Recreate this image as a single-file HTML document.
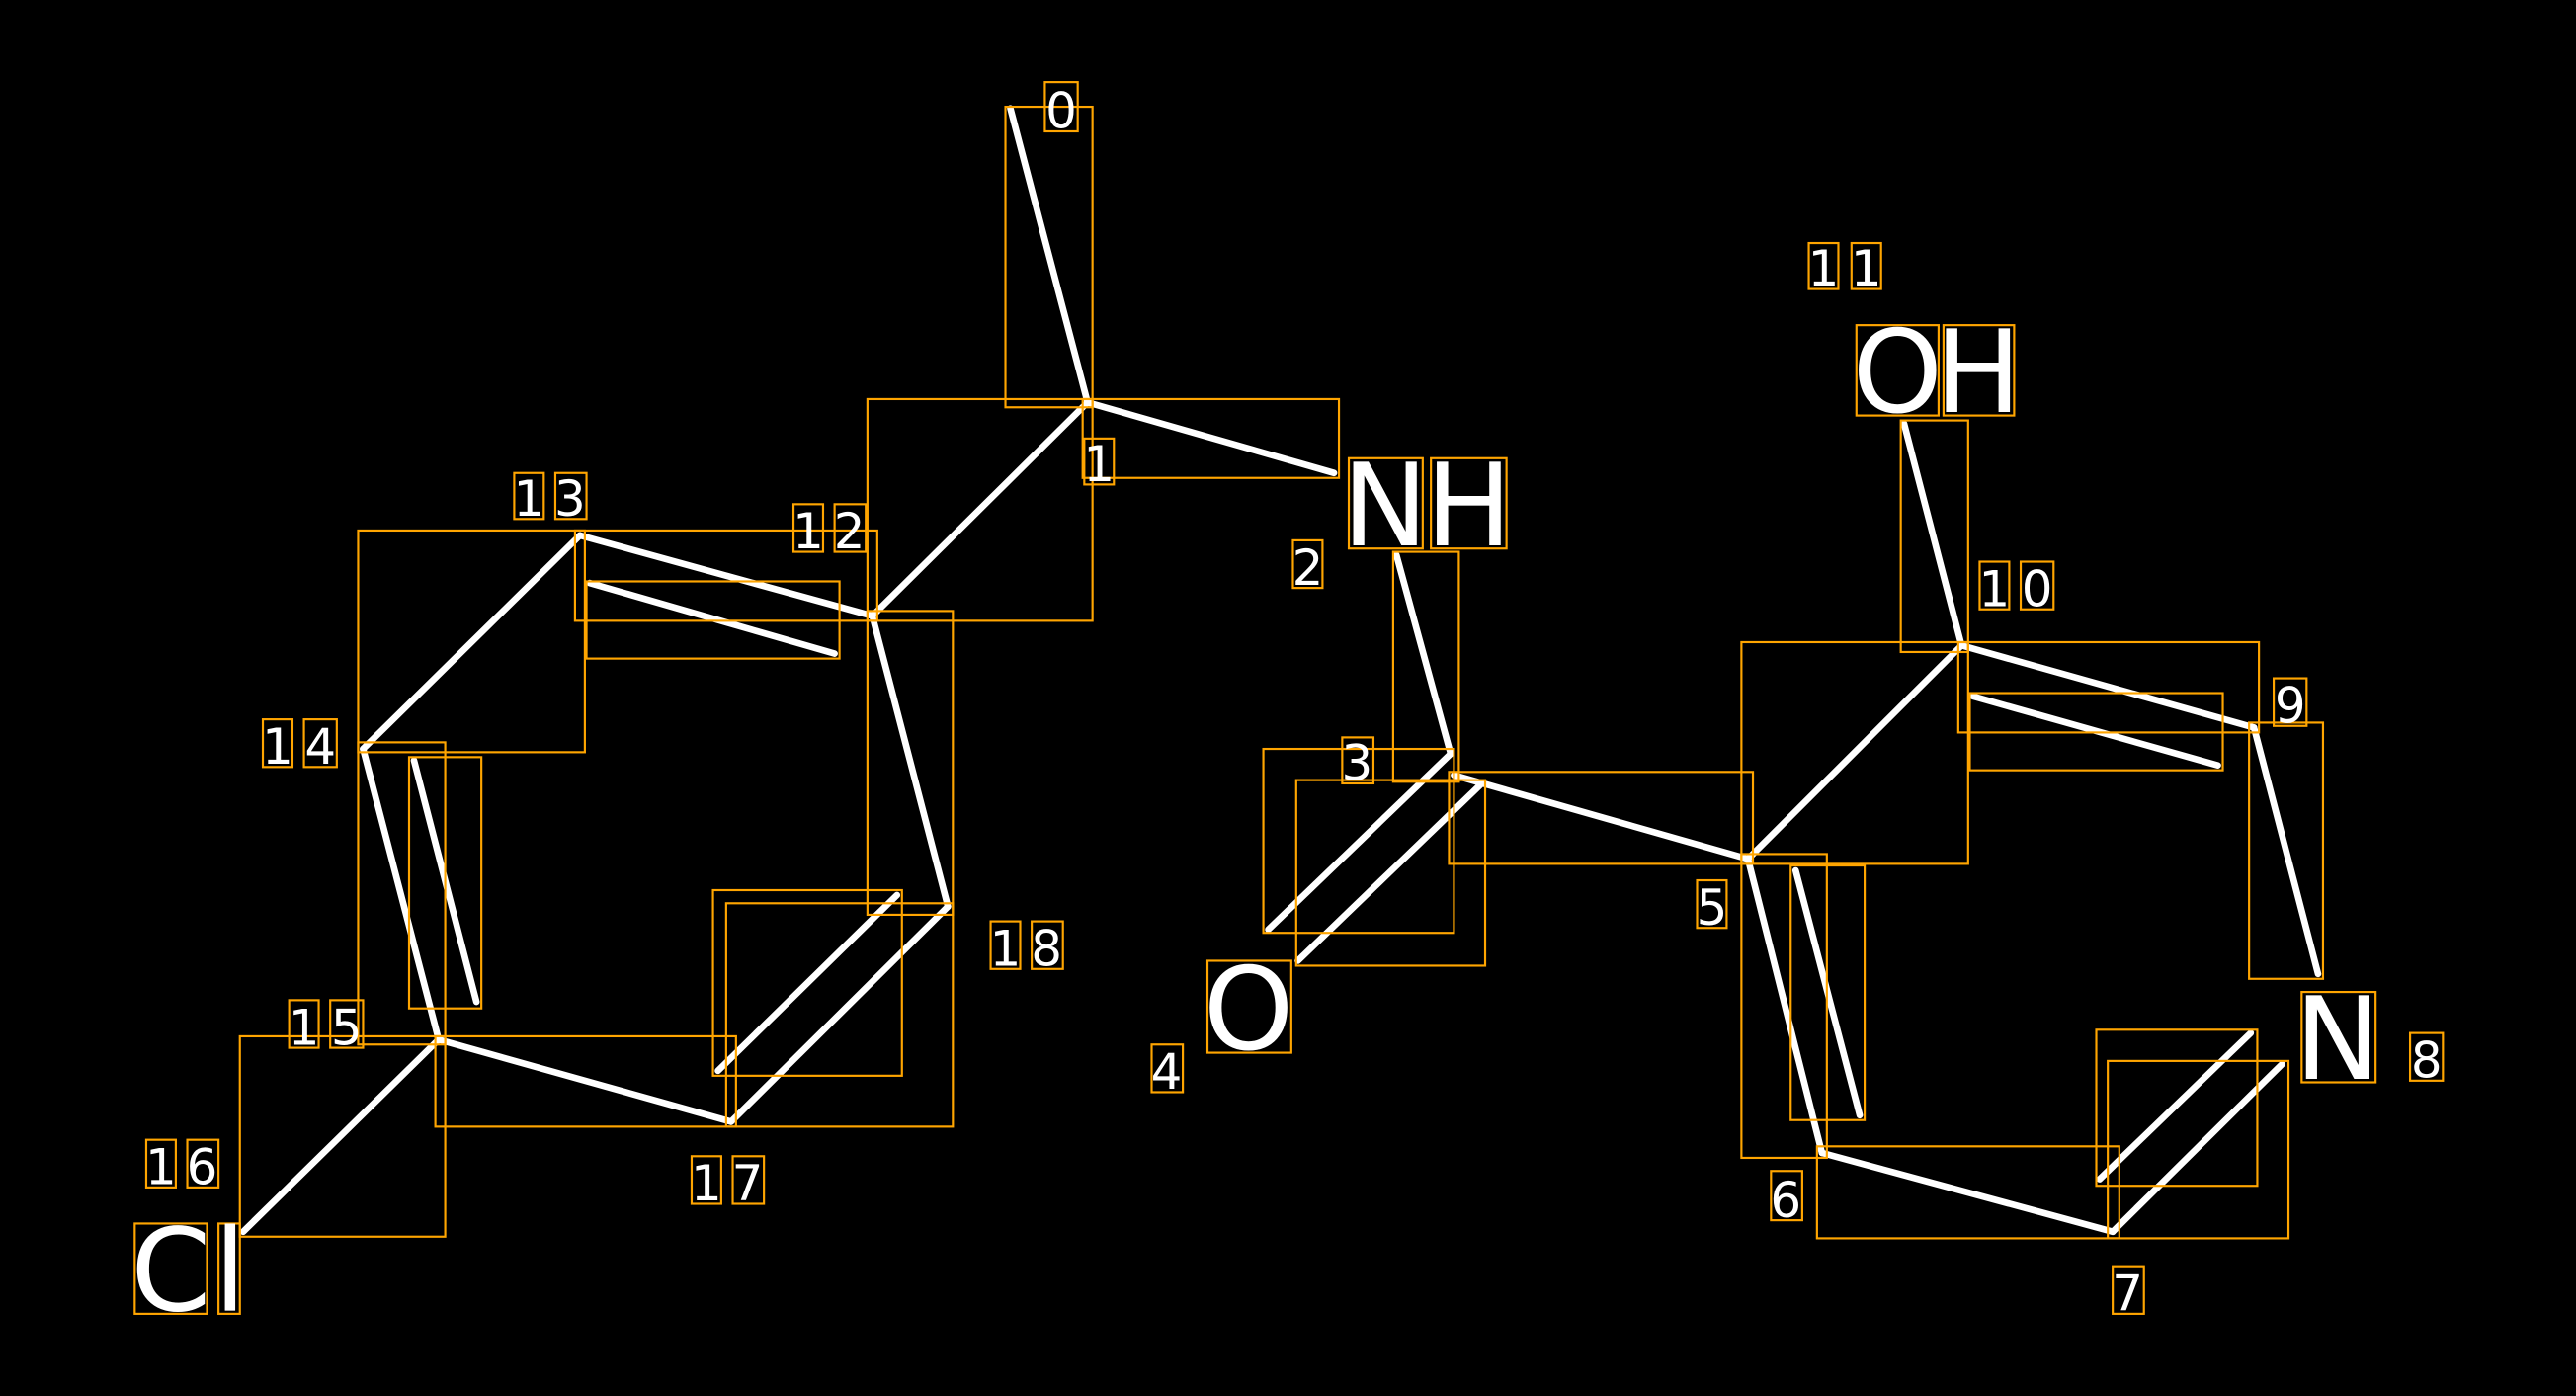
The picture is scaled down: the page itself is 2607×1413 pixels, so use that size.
<!DOCTYPE html>
<html><head><meta charset="utf-8"><style>
html,body{margin:0;padding:0;background:#000;}
svg{display:block;}
text{font-family:"DejaVu Sans","Liberation Sans",sans-serif;fill:#fff;text-anchor:middle;}
.s{font-size:30px;}
.b{font-size:70px;}
</style></head><body>
<svg width="2607" height="1413" viewBox="0 0 1568 850" preserveAspectRatio="none" xmlns="http://www.w3.org/2000/svg">
<rect x="0" y="0" width="1568" height="850" fill="#000"/>
<g stroke="#fff" stroke-width="4" stroke-linecap="round">
<line x1="615" y1="66" x2="662" y2="245"/>
<line x1="662" y1="245" x2="812" y2="288"/>
<line x1="662" y1="245" x2="531" y2="375"/>
<line x1="531" y1="375" x2="353" y2="326"/>
<line x1="359" y1="355" x2="508" y2="398"/>
<line x1="353" y1="326" x2="221" y2="456"/>
<line x1="221" y1="456" x2="267" y2="633"/>
<line x1="252" y1="463" x2="290" y2="610"/>
<line x1="267" y1="633" x2="148" y2="750"/>
<line x1="267" y1="633" x2="445" y2="683"/>
<line x1="445" y1="683" x2="577" y2="552"/>
<line x1="437" y1="652" x2="546" y2="545"/>
<line x1="577" y1="552" x2="531" y2="375"/>
<line x1="850" y1="338" x2="883" y2="459"/>
<line x1="883" y1="459" x2="772" y2="566"/>
<line x1="902" y1="477" x2="790" y2="585"/>
<line x1="885" y1="472" x2="1064" y2="523"/>
<line x1="1064" y1="523" x2="1194" y2="393"/>
<line x1="1194" y1="393" x2="1159" y2="258"/>
<line x1="1194" y1="393" x2="1372" y2="443"/>
<line x1="1201" y1="424" x2="1350" y2="466"/>
<line x1="1372" y1="443" x2="1411" y2="593"/>
<line x1="1064" y1="523" x2="1109" y2="702"/>
<line x1="1093" y1="530" x2="1132" y2="679"/>
<line x1="1109" y1="702" x2="1286" y2="750"/>
<line x1="1286" y1="750" x2="1389" y2="648"/>
<line x1="1278" y1="718" x2="1370" y2="629"/>
</g>
<g fill="none" stroke="#FFA500" stroke-width="1.3">
<rect x="612" y="65" width="53" height="183"/>
<rect x="659" y="243" width="156" height="48"/>
<rect x="528" y="243" width="137" height="135"/>
<rect x="350" y="323" width="184" height="55"/>
<rect x="357" y="354" width="154" height="47"/>
<rect x="218" y="323" width="138" height="135"/>
<rect x="218" y="452" width="53" height="184"/>
<rect x="249" y="461" width="44" height="153"/>
<rect x="146" y="631" width="125" height="122"/>
<rect x="265" y="631" width="183" height="55"/>
<rect x="442" y="550" width="138" height="136"/>
<rect x="528" y="372" width="52" height="185"/>
<rect x="434" y="542" width="115" height="113"/>
<rect x="848" y="336" width="40" height="140"/>
<rect x="769" y="456" width="116" height="112"/>
<rect x="789" y="475" width="115" height="113"/>
<rect x="882" y="470" width="185" height="56"/>
<rect x="1060" y="391" width="138" height="135"/>
<rect x="1157" y="256" width="41" height="141"/>
<rect x="1192" y="391" width="183" height="55"/>
<rect x="1199" y="422" width="154" height="47"/>
<rect x="1369" y="440" width="45" height="156"/>
<rect x="1060" y="520" width="52" height="185"/>
<rect x="1090" y="527" width="45" height="155"/>
<rect x="1106" y="698" width="184" height="56"/>
<rect x="1276" y="627" width="98" height="95"/>
<rect x="1283" y="646" width="110" height="108"/>
<!-- char boxes -->
<rect x="636" y="50" width="20" height="30"/>
<rect x="660" y="267" width="18" height="28"/>
<rect x="787" y="329" width="18" height="29"/>
<rect x="817" y="449" width="19" height="28"/>
<rect x="701" y="636" width="19" height="29"/>
<rect x="1033" y="536" width="18" height="29"/>
<rect x="1078" y="713" width="19" height="30"/>
<rect x="1286" y="771" width="19" height="29"/>
<rect x="1467" y="629" width="20" height="29"/>
<rect x="1384" y="413" width="20" height="29"/>
<rect x="1205" y="342" width="18" height="29"/><rect x="1230" y="342" width="20" height="29"/>
<rect x="1101" y="148" width="18" height="28"/><rect x="1127" y="148" width="18" height="28"/>
<rect x="483" y="307" width="18" height="29"/><rect x="508" y="307" width="19" height="29"/>
<rect x="313" y="288" width="18" height="28"/><rect x="338" y="288" width="19" height="28"/>
<rect x="160" y="438" width="18" height="29"/><rect x="185" y="438" width="20" height="29"/>
<rect x="176" y="609" width="18" height="29"/><rect x="201" y="609" width="20" height="29"/>
<rect x="89" y="694" width="18" height="29"/><rect x="114" y="694" width="19" height="29"/>
<rect x="421" y="704" width="18" height="29"/><rect x="446" y="704" width="19" height="29"/>
<rect x="603" y="561" width="18" height="29"/><rect x="628" y="561" width="19" height="29"/>
<rect x="821" y="279" width="45" height="55"/><rect x="871" y="279" width="46" height="55"/>
<rect x="1130" y="198" width="50" height="55"/><rect x="1183" y="198" width="43" height="55"/>
<rect x="735" y="585" width="51" height="56"/>
<rect x="1401" y="604" width="45" height="55"/>
<rect x="82" y="745" width="44" height="55"/><rect x="133" y="745" width="13" height="55"/>
</g>
<g class="s">
<text x="646" y="78" class="s">0</text>
<text x="669" y="293" class="s">1</text>
<text x="796" y="356" class="s">2</text>
<text x="826" y="475" class="s">3</text>
<text x="710" y="663" class="s">4</text>
<text x="1042" y="563" class="s">5</text>
<text x="1087" y="741" class="s">6</text>
<text x="1295" y="798" class="s">7</text>
<text x="1477" y="656" class="s">8</text>
<text x="1394" y="440" class="s">9</text>
<text x="1214" y="369" class="s">1</text><text x="1240" y="369" class="s">0</text>
<text x="1110" y="174" class="s">1</text><text x="1136" y="174" class="s">1</text>
<text x="492" y="334" class="s">1</text><text x="517" y="334" class="s">2</text>
<text x="322" y="314" class="s">1</text><text x="347" y="314" class="s">3</text>
<text x="169" y="465" class="s">1</text><text x="195" y="465" class="s">4</text>
<text x="185" y="636" class="s">1</text><text x="211" y="636" class="s">5</text>
<text x="98" y="721" class="s">1</text><text x="123" y="721" class="s">6</text>
<text x="430" y="731" class="s">1</text><text x="455" y="731" class="s">7</text>
<text x="612" y="588" class="s">1</text><text x="637" y="588" class="s">8</text>
</g>
<text x="843" y="332" class="b">N</text><text x="894" y="332" class="b">H</text>
<text x="1155" y="251" class="b">O</text><text x="1204" y="251" class="b">H</text>
<text x="760" y="639" class="b">O</text>
<text x="1423" y="657" class="b">N</text>
<text x="104" y="798" class="b">C</text><text x="140" y="798" class="b">l</text>
</svg>
</body></html>
